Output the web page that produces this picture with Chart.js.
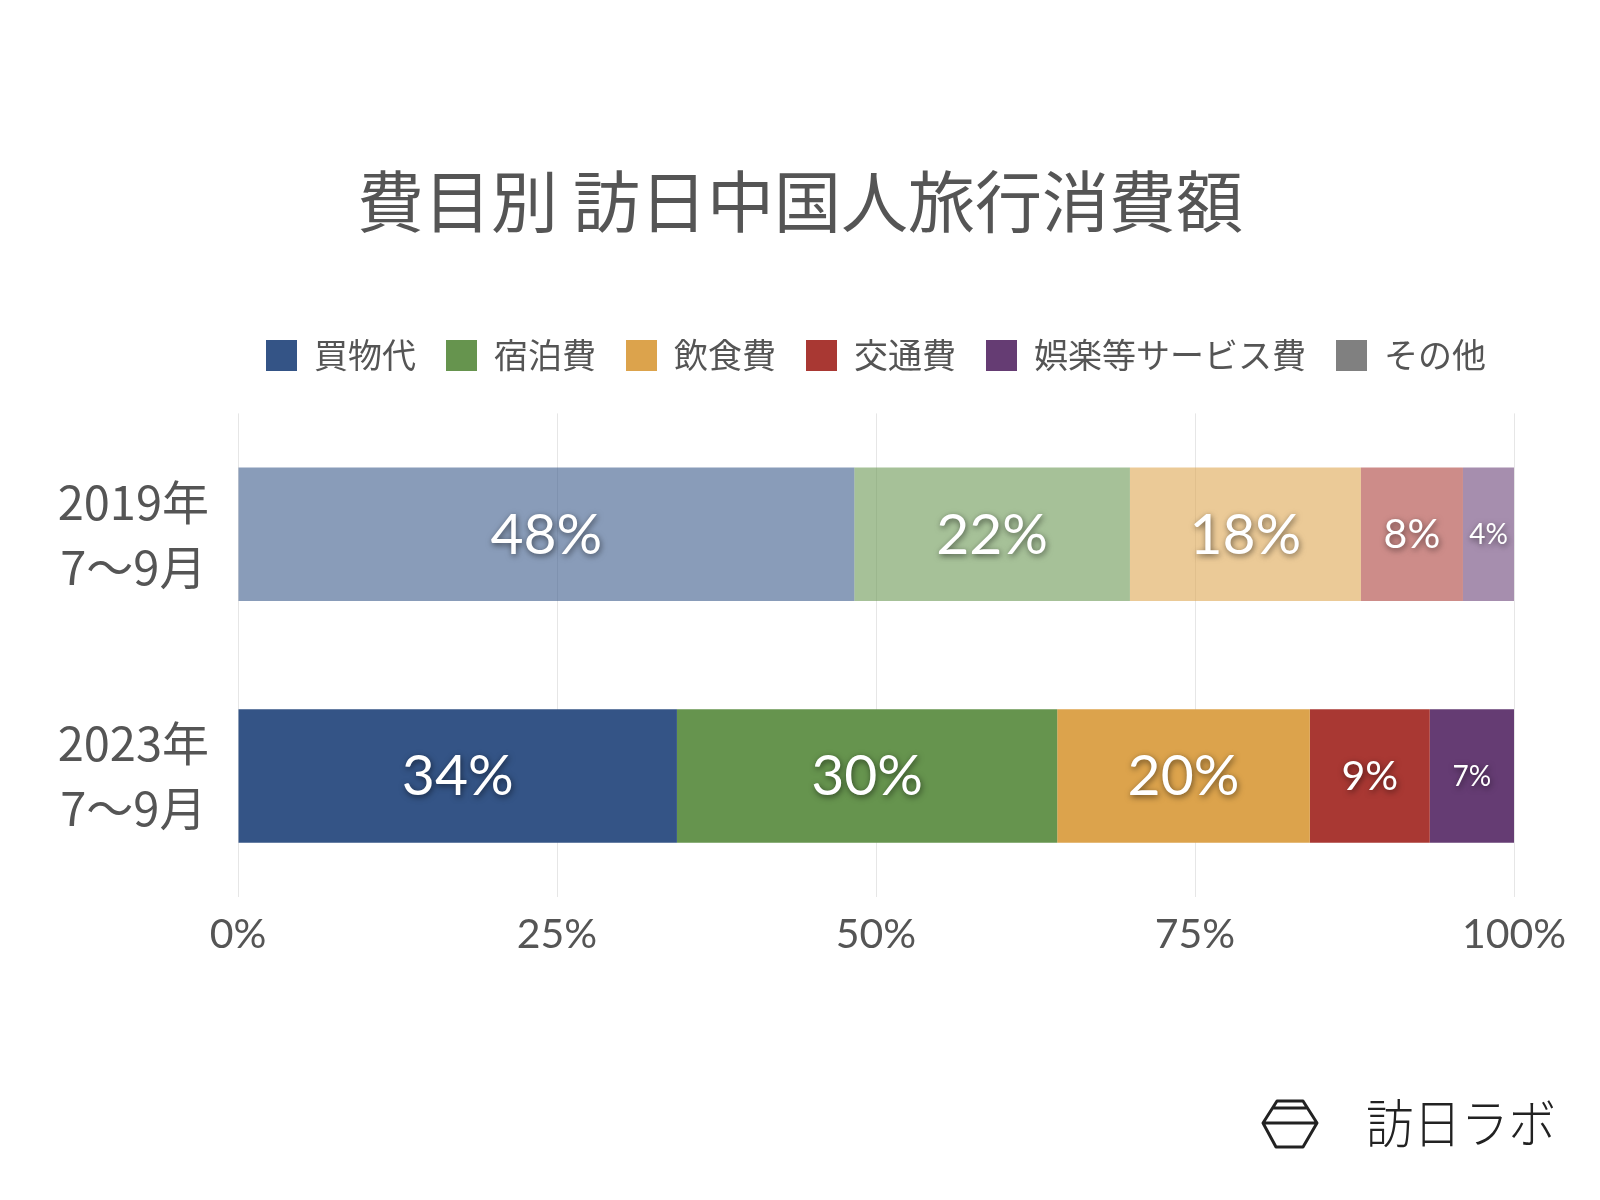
<!DOCTYPE html>
<html lang="ja">
<head>
<meta charset="utf-8">
<title>費目別 訪日中国人旅行消費額</title>
<script src="https://cdn.jsdelivr.net/npm/chart.js@4/dist/chart.umd.min.js"></script>
<style>
  html, body { margin: 0; padding: 0; background: #fff; }
  #wrap { position: relative; width: 1600px; height: 1200px; }
</style>
</head>
<body>
<div id="wrap"><canvas id="chart" width="1600" height="1200"></canvas></div>
<script>
const periods = [['2019年', '7〜9月'], ['2023年', '7〜9月']];
const categories = ['買物代', '宿泊費', '飲食費', '交通費', '娯楽等サービス費', 'その他'];
const shopping = [48.3, 34.4];
const lodging = [21.6, 29.8];
const food = [18.1, 19.8];
const transport = [8.0, 9.4];
const entertainment = [4.0, 6.6];
const others = [0, 0];
const xTicks = [0, 25, 50, 75, 100];

const colors = ['#345486', '#66944e', '#dca34c', '#a93833', '#653c73', '#808080'];
const seriesValues = [shopping, lodging, food, transport, entertainment, others];

function fade(hex, a) {
    const n = parseInt(hex.slice(1), 16);
    return `rgba(${(n >> 16) & 255}, ${(n >> 8) & 255}, ${n & 255}, ${a})`;
}

const textFont = "'Noto Sans CJK JP', 'Noto Sans', sans-serif";
const labelFont = "'Lato', 'Noto Sans', sans-serif";

// more room under the legend, title centred on the page, legend centred on the plot
const layoutTweaks = {
    id: 'layoutTweaks',
    beforeInit(chart) {
        const fit = chart.legend.fit;
        chart.legend.fit = function() {
            fit.call(this);
            this.height += 31;
        };
    },
    afterLayout(chart) {
        const t = chart.titleBlock;
        t.left = 0;
        t.right = chart.width;
        t.width = chart.width;
        const lg = chart.legend;
        const shift = (chart.chartArea.left + chart.chartArea.right) / 2 - (lg.left + lg.right) / 2;
        lg.left += shift;
        lg.right += shift;
    }
};

// white value labels with a soft shadow, drawn in the middle of each segment
const valueLabels = {
    id: 'valueLabels',
    afterDatasetsDraw(chart) {
        const ctx = chart.ctx;
        ctx.save();
        chart.data.datasets.forEach((ds, i) => {
            chart.getDatasetMeta(i).data.forEach((bar, j) => {
                const v = ds.data[j];
                if (!v) return;
                const shown = Math.round(v);
                let size = 57;
                if (shown < 8) size = 28;
                else if (shown < 15) size = 41;
                ctx.font = `${size}px ${labelFont}`;
                ctx.textAlign = 'center';
                ctx.textBaseline = 'middle';
                ctx.shadowColor = 'rgba(0, 0, 0, 0.55)';
                ctx.shadowBlur = 6;
                ctx.shadowOffsetX = 1;
                ctx.shadowOffsetY = 2;
                ctx.fillStyle = '#ffffff';
                const x = (bar.x + bar.base) / 2;
                ctx.fillText(shown + '%', x, bar.y + 1);
            });
        });
        ctx.restore();
    }
};

// site logo in the bottom right corner
const logo = {
    id: 'logo',
    afterDraw(chart) {
        const ctx = chart.ctx;
        ctx.save();
        ctx.strokeStyle = '#222';
        ctx.lineWidth = 3;
        ctx.lineJoin = 'round';
        ctx.beginPath();
        ctx.moveTo(1277, 1101);
        ctx.lineTo(1303, 1101);
        ctx.lineTo(1317, 1123);
        ctx.lineTo(1303, 1147);
        ctx.lineTo(1276, 1147);
        ctx.lineTo(1263, 1123);
        ctx.closePath();
        ctx.moveTo(1272, 1108);
        ctx.lineTo(1308, 1108);
        ctx.moveTo(1263, 1123);
        ctx.lineTo(1317, 1123);
        ctx.stroke();
        ctx.fillStyle = '#222';
        ctx.font = `300 50px ${textFont}`;
        ctx.textAlign = 'left';
        ctx.textBaseline = 'middle';
        ctx.translate(1366, 1123);
        ctx.scale(0.95, 1.05);
        ctx.fillText('訪日ラボ', 0, 0);
        ctx.restore();
    }
};

const ctx = document.getElementById('chart').getContext('2d');

new Chart(ctx, {
    type: 'bar',
    data: {
        labels: periods,
        datasets: categories.map((name, i) => ({
            label: name,
            data: seriesValues[i],
            backgroundColor: [fade(colors[i], 0.58), colors[i]],
            borderWidth: 0,
            barPercentage: 0.92,
            categoryPercentage: 0.6
        }))
    },
    options: {
        indexAxis: 'y',
        responsive: false,
        animation: false,
        layout: {
            padding: { top: 120, right: 86, bottom: 228, left: 0 }
        },
        plugins: {
            title: {
                display: true,
                text: '費目別 訪日中国人旅行消費額',
                color: '#555555',
                font: { family: textFont, size: 67, weight: '400' },
                padding: { top: 41, bottom: 67 }
            },
            legend: {
                position: 'top',
                labels: {
                    color: '#555555',
                    font: { family: textFont, size: 34 },
                    boxWidth: 31,
                    boxHeight: 31,
                    padding: 30,
                    generateLabels(chart) {
                        return chart.data.datasets.map((ds, i) => ({
                            text: ds.label,
                            fillStyle: colors[i],
                            strokeStyle: colors[i],
                            lineWidth: 0,
                            hidden: false,
                            datasetIndex: i,
                            fontColor: '#555555'
                        }));
                    }
                }
            },
            tooltip: { enabled: false }
        },
        scales: {
            x: {
                stacked: true,
                min: 0,
                max: 100,
                afterBuildTicks(scale) {
                    scale.ticks = xTicks.map(v => ({ value: v }));
                },
                ticks: {
                    color: '#555555',
                    font: { family: labelFont, size: 41 },
                    padding: 13,
                    callback: v => v + '%'
                },
                grid: { color: '#e6e6e6', lineWidth: 1, drawTicks: false },
                border: { display: false }
            },
            y: {
                stacked: true,
                afterFit(scale) { scale.width = 238; },
                ticks: {
                    color: '#555555',
                    font: { family: textFont, size: 47, lineHeight: 1.38 },
                    padding: 29,
                    crossAlign: 'center'
                },
                grid: { display: false, drawTicks: false },
                border: { display: false }
            }
        }
    },
    plugins: [layoutTweaks, valueLabels, logo]
});
</script>
</body>
</html>
